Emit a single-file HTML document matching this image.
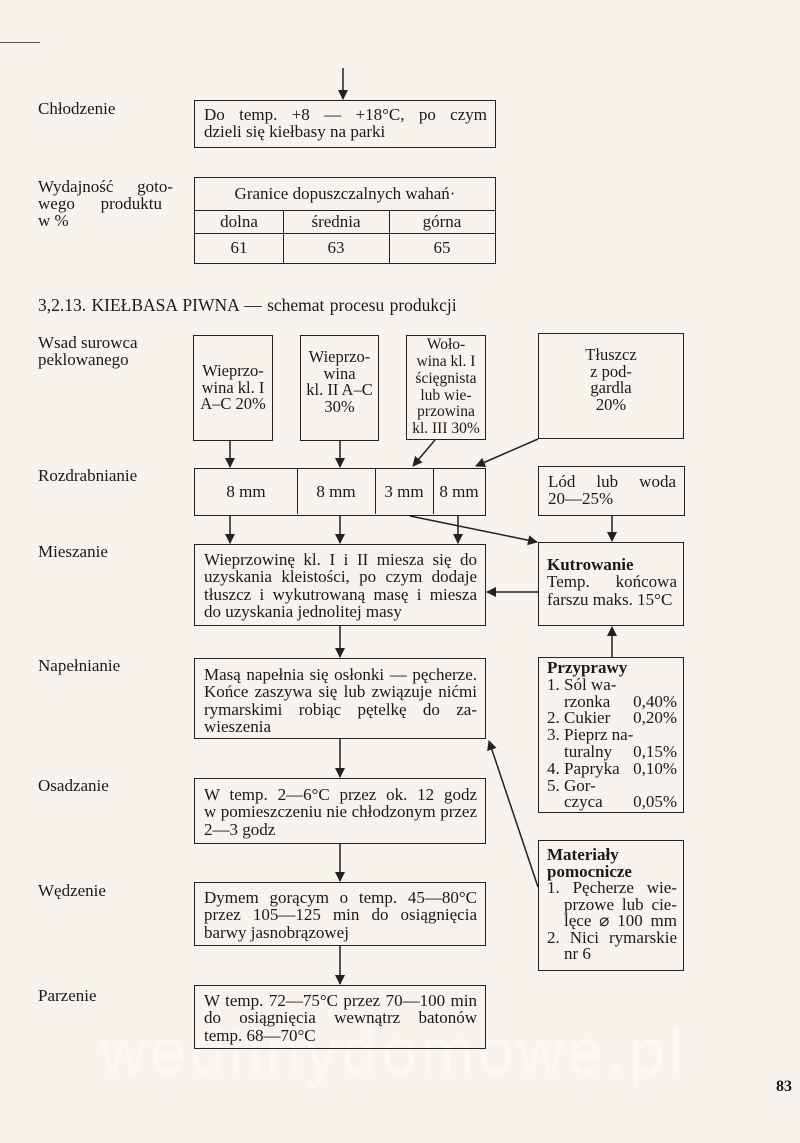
<!DOCTYPE html>
<html><head><meta charset="utf-8"><style>
body{margin:0;width:800px;height:1143px;background:#f6f4ec;position:relative;overflow:hidden;font-family:"Liberation Serif",serif;color:#1a1a1a}
.b{position:absolute;border:1.6px solid #222;box-sizing:border-box;font-size:17px;line-height:17.3px;z-index:2}
.t{position:absolute;font-size:17px;line-height:17px;z-index:2}
.j{padding:5px 8px 0 9px}
.j div{text-align:justify;text-align-last:justify;white-space:nowrap}
.j div.e{text-align-last:left}
.c{text-align:center;display:flex;align-items:center;justify-content:center;font-size:16.5px}
.r{position:absolute;border-left:1.4px solid #222}
svg{position:absolute;left:0;top:0;z-index:3}
.p div{display:flex;justify-content:space-between}
</style></head><body>
<div style="position:absolute;left:0;top:42px;width:40px;border-top:1px solid #555"></div>
<div class="t" style="left:38px;top:100px">Chłodzenie</div>
<div class="b j" style="left:194px;top:100px;width:302px;height:48px;padding-top:5px"><div>Do temp. +8 — +18°C, po czym</div><div class="e">dzieli się kiełbasy na parki</div></div>
<div class="t" style="left:38px;top:178px;width:135px"><div style="display:flex;justify-content:space-between"><span>Wydajność</span><span>goto-</span></div><div style="display:flex;justify-content:space-between;width:124px"><span>wego</span><span>produktu</span></div>w %</div>
<div class="b" style="left:194px;top:177px;width:302px;height:87px">
<div style="position:absolute;left:0;top:0;width:100%;height:32px;border-bottom:1.4px solid #222;text-align:center;line-height:31px">Granice dopuszczalnych wahań·</div>
<div style="position:absolute;left:0;top:32px;width:100%;height:23px;border-bottom:1.4px solid #222"></div>
<div class="r" style="left:88px;top:32px;height:54px"></div><div class="r" style="left:194px;top:32px;height:54px"></div>
<div style="position:absolute;top:35px;left:0;width:88px;text-align:center">dolna</div>
<div style="position:absolute;top:35px;left:88px;width:106px;text-align:center">średnia</div>
<div style="position:absolute;top:35px;left:194px;width:106px;text-align:center">górna</div>
<div style="position:absolute;top:61px;left:0;width:88px;text-align:center">61</div>
<div style="position:absolute;top:61px;left:88px;width:106px;text-align:center">63</div>
<div style="position:absolute;top:61px;left:194px;width:106px;text-align:center">65</div>
</div>
<div class="t" style="left:38px;top:297px;font-size:17.5px;word-spacing:1px">3,2.13. KIEŁBASA PIWNA — schemat procesu produkcji</div>
<div class="t" style="left:38px;top:334px">Wsad surowca<br>peklowanego</div>
<div class="t" style="left:38px;top:467px">Rozdrabnianie</div>
<div class="t" style="left:38px;top:543px">Mieszanie</div>
<div class="t" style="left:38px;top:657px">Napełnianie</div>
<div class="t" style="left:38px;top:777px">Osadzanie</div>
<div class="t" style="left:38px;top:882px">Wędzenie</div>
<div class="t" style="left:38px;top:987px">Parzenie</div>

<div class="b c" style="left:193px;top:335px;width:80px;height:106px;line-height:16.5px">Wieprzo-<br>wina kl. I<br>A–C 20%</div>
<div class="b c" style="left:300px;top:335px;width:79px;height:106px;line-height:16.5px;padding-bottom:12px">Wieprzo-<br>wina<br>kl. II A–C<br>30%</div>
<div class="b c" style="left:406px;top:335px;width:80px;height:105px;font-size:15.5px;line-height:16.8px">Woło-<br>wina kl. I<br>ścięgnista<br>lub wie-<br>przowina<br>kl. III 30%</div>
<div class="b c" style="left:538px;top:333px;width:146px;height:106px;line-height:16.5px;padding-bottom:12px">Tłuszcz<br>z pod-<br>gardla<br>20%</div>

<div class="b" style="left:194px;top:468px;width:292px;height:48px">
<div class="r" style="left:102px;top:0;height:45px"></div><div class="r" style="left:180px;top:0;height:45px"></div><div class="r" style="left:238px;top:0;height:45px"></div>
<div style="position:absolute;top:14px;left:0;width:102px;text-align:center">8 mm</div>
<div style="position:absolute;top:14px;left:102px;width:78px;text-align:center">8 mm</div>
<div style="position:absolute;top:14px;left:180px;width:58px;text-align:center">3 mm</div>
<div style="position:absolute;top:14px;left:238px;width:52px;text-align:center">8 mm</div>
</div>
<div class="b j" style="left:538px;top:466px;width:147px;height:50px;padding-top:6px"><div>Lód lub woda</div><div class="e">20—25%</div></div>

<div class="b j" style="left:194px;top:544px;width:292px;height:82px;padding-top:6px"><div>Wieprzowinę kl. I i II miesza się do</div><div>uzyskania kleistości, po czym dodaje</div><div>tłuszcz i wykutrowaną masę i miesza</div><div class="e">do uzyskania jednolitej masy</div></div>
<div class="b j" style="left:538px;top:542px;width:146px;height:84px;padding:13px 6px 0 8px"><div class="e"><b>Kutrowanie</b></div><div>Temp. końcowa</div><div class="e">farszu maks. 15°C</div></div>

<div class="b j" style="left:194px;top:658px;width:292px;height:81px;padding-top:7px"><div>Masą napełnia się osłonki — pęcherze.</div><div>Końce zaszywa się lub związuje nićmi</div><div>rymarskimi robiąc pętelkę do za-</div><div class="e">wieszenia</div></div>
<div class="b p" style="left:538px;top:657px;width:146px;height:156px;padding:2px 6px 0 8px;line-height:16.8px"><b>Przyprawy</b><span style="display:block">1. Sól wa-</span><div><span>&nbsp;&nbsp;&nbsp;&nbsp;rzonka</span><span>0,40%</span></div><div><span>2. Cukier</span><span>0,20%</span></div><span style="display:block">3. Pieprz na-</span><div><span>&nbsp;&nbsp;&nbsp;&nbsp;turalny</span><span>0,15%</span></div><div><span>4. Papryka</span><span>0,10%</span></div><span style="display:block">5. Gor-</span><div><span>&nbsp;&nbsp;&nbsp;&nbsp;czyca</span><span>0,05%</span></div></div>

<div class="b j" style="left:194px;top:778px;width:292px;height:66px;padding-top:7px"><div>W temp. 2—6°C przez ok. 12 godz</div><div>w pomieszczeniu nie chłodzonym przez</div><div class="e">2—3 godz</div></div>
<div class="b j" style="left:538px;top:840px;width:146px;height:131px;padding:6px 6px 0 8px;line-height:16.5px"><div class="e"><b>Materiały</b></div><div class="e"><b>pomocnicze</b></div><div>1. Pęcherze wie-</div><div style="padding-left:17px">przowe lub cie-</div><div style="padding-left:17px">lęce ⌀ 100 mm</div><div>2. Nici rymarskie</div><div class="e" style="padding-left:17px">nr 6</div></div>

<div class="b j" style="left:194px;top:882px;width:292px;height:64px;padding-top:6px"><div>Dymem gorącym o temp. 45—80°C</div><div>przez 105—125 min do osiągnięcia</div><div class="e">barwy jasnobrązowej</div></div>
<div class="b j" style="left:194px;top:985px;width:292px;height:64px;padding-top:6px"><div>W temp. 72—75°C przez 70—100 min</div><div>do osiągnięcia wewnątrz batonów</div><div class="e">temp. 68—70°C</div></div>

<div style="position:absolute;left:100px;top:1015px;font-size:64px;color:#f9f8f2;letter-spacing:4px;font-family:'Liberation Sans',sans-serif;z-index:1">wedlinydomowe.pl</div>
<div class="t" style="left:776px;top:1078px;font-size:16px;font-weight:bold">83</div>

<svg width="800" height="1143" viewBox="0 0 800 1143">
<defs><marker id="a" markerWidth="10" markerHeight="14" refX="9" refY="5" orient="auto" markerUnits="userSpaceOnUse"><path d="M0,0 L10,5 L0,10 z" fill="#222"/></marker></defs>
<g stroke="#222" stroke-width="1.5" fill="none" marker-end="url(#a)">
<line x1="343" y1="68" x2="343" y2="99"/>
<line x1="230" y1="441" x2="230" y2="467"/>
<line x1="340" y1="441" x2="340" y2="467"/>
<line x1="435" y1="440" x2="413" y2="466"/>
<line x1="538" y1="439" x2="476" y2="466"/>
<line x1="230" y1="516" x2="230" y2="543"/>
<line x1="340" y1="516" x2="340" y2="543"/>
<line x1="458" y1="516" x2="458" y2="543"/>
<line x1="410" y1="516" x2="537" y2="542"/>
<line x1="612" y1="516" x2="612" y2="541"/>
<line x1="538" y1="592" x2="487" y2="592"/>
<line x1="340" y1="626" x2="340" y2="657"/>
<line x1="612" y1="657" x2="612" y2="627"/>
<line x1="340" y1="739" x2="340" y2="777"/>
<line x1="538" y1="887" x2="489" y2="741"/>
<line x1="340" y1="844" x2="340" y2="881"/>
<line x1="340" y1="946" x2="340" y2="984"/>
</g></svg>
</body></html>
